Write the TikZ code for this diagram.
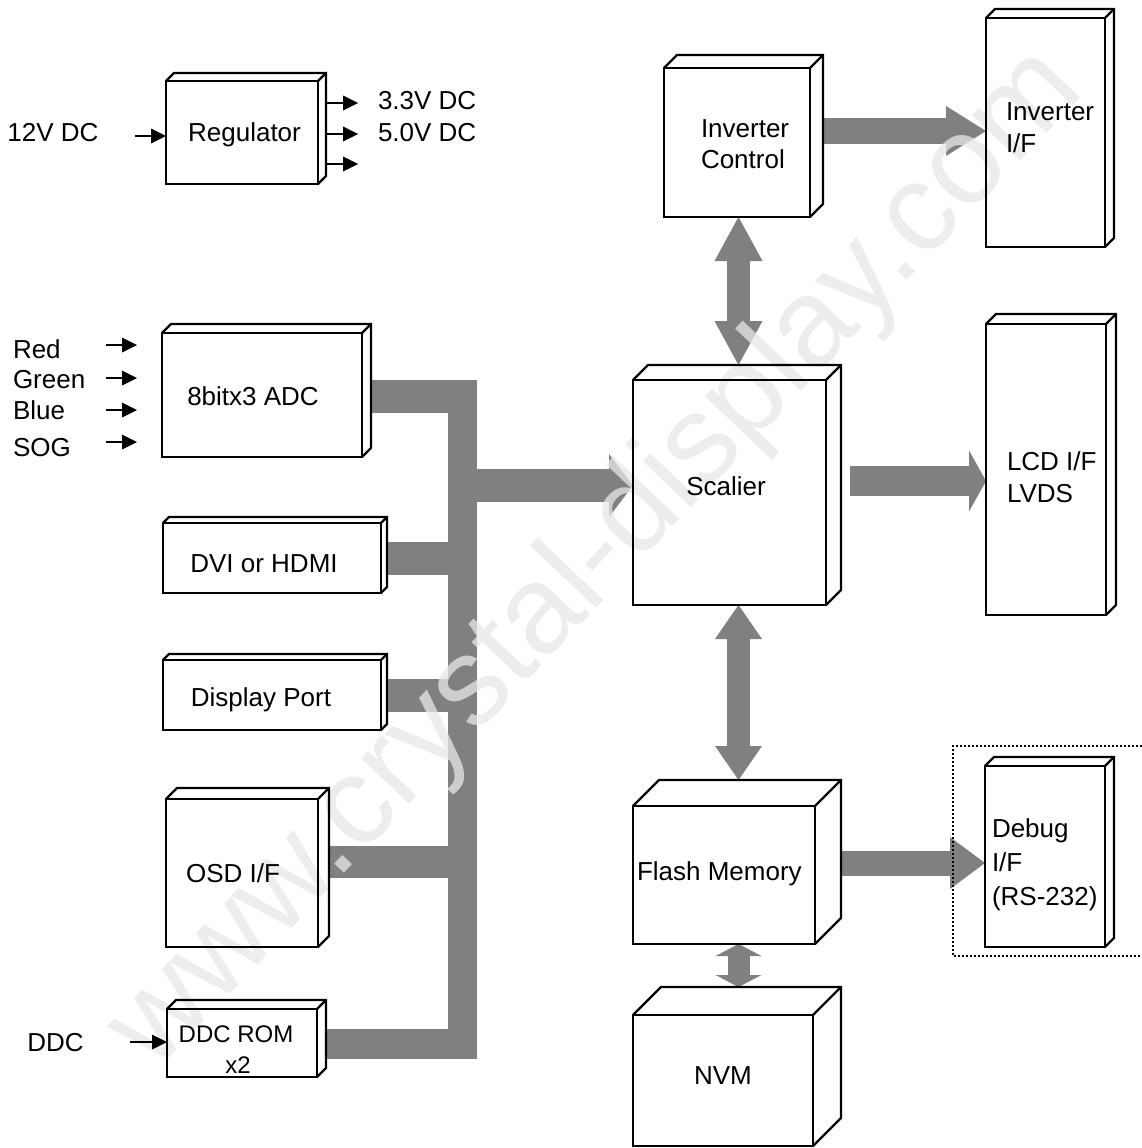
\documentclass[tikz,border=0pt]{standalone}
\usepackage{fontspec}
\setmainfont{Liberation Sans}
\usetikzlibrary{arrows.meta,calc}
\definecolor{busgray}{RGB}{128,128,128}
\definecolor{wmgray}{RGB}{232,232,232}
\tikzset{
  cubeface/.style={fill=white, draw=none, inner sep=0pt, outer sep=0pt},
  edge/.style={draw=black, line width=2.4pt},
  lbl/.style={font=\fontsize{26}{31}\selectfont, inner sep=0pt, outer sep=0pt},
  lblsm/.style={font=\fontsize{24}{28}\selectfont, inner sep=0pt, outer sep=0pt},
  sarrow/.style={draw=black, line width=2.4pt, -{Triangle[length=15pt,width=15pt,line width=0pt]}},
  fat/.style={draw=busgray, line cap=butt},
  dotbox/.style={draw=black, line width=1.8pt, dash pattern=on 1.8pt off 2.2pt},
}
\newcommand\cubefill[6]{%
  \node[cubeface, minimum width={(#4)-(#2)}, minimum height={(#5)-(#3)}] (#1) at ({((#2)+(#4))/2},{((#3)+(#5))/2}) {};
  \fill[white] (#1.north west) -- ++(#6,-#6) -- ([shift={(#6,-#6)}]#1.north east) -- ([shift={(#6,-#6)}]#1.south east) -- (#1.south east) -- (#1.north east) -- cycle;
}
\newcommand\cubeline[2]{%
  \draw[edge] (#1.north west) rectangle (#1.south east);
  \draw[edge] (#1.north west) -- ++(#2,-#2) -- ([shift={(#2,-#2)}]#1.north east) -- ([shift={(#2,-#2)}]#1.south east) -- (#1.south east);
  \draw[edge] (#1.north east) -- ++(#2,-#2);
}
\begin{document}
\begin{tikzpicture}[x=1pt,y=-1pt]
\fill[white] (0,0) rectangle (1142,1148);
\useasboundingbox (0,0) rectangle (1142,1148);
\clip (0,0) rectangle (1142,1148);

% box faces
\cubefill{reg}{166}{81}{318}{184}{8}
\cubefill{adc}{162}{333}{362}{457}{9}
\cubefill{dvi}{163}{523}{381}{593}{6}
\cubefill{dp}{163}{660}{381}{730}{6}
\cubefill{osd}{166}{799}{318}{947}{11}
\cubefill{ddc}{167}{1009}{317}{1077}{9}
\cubefill{invc}{664}{68}{810}{217}{13}
\cubefill{invif}{986}{18}{1105}{247}{9}
\cubefill{scal}{633}{380}{826}{605}{15}
\cubefill{lcd}{986}{324}{1106}{615}{10}
\cubefill{flash}{633}{806}{815}{944}{26}
\cubefill{debug}{985}{766}{1105}{947}{9}
\cubefill{nvm}{633}{1015}{813}{1146}{28}

% bus
\coordinate (barTop) at (462.5,380);
\coordinate (barBot) at (462.5,1059);
\coordinate (barC) at (462.5,0);
\coordinate (adcbus) at (477,396.5);
\coordinate (osdbus) at (462.5,862);
\coordinate (ddcbus) at (477,1044);
\draw[fat, line width=29pt] (barTop) -- (barBot);
\draw[fat, line width=33pt] ($(adc.east |- adcbus)+(9,0)$) -- (adcbus);
\draw[fat, line width=33pt] ($(dvi.east)+(6,0)$) -- (dvi.east -| barC);
\draw[fat, line width=33pt] ($(dp.east)+(6,0)$) -- (dp.east -| barC);
\draw[fat, line width=32pt] ($(osd.east |- osdbus)+(11,0)$) -- (osdbus);
\draw[fat, line width=30pt] ($(ddc.east |- ddcbus)+(9,0)$) -- (ddcbus);

% fat arrows
\coordinate (busout) at (470,485.5);
\draw[fat, line width=33pt, -{Triangle[length=24pt,width=63pt,line width=0pt]}] (busout) -- (busout -| scal.west);
\coordinate (lcdout) at (850,481);
\draw[fat, line width=30pt, -{Triangle[length=17pt,width=61pt,line width=0pt]}] (lcdout) -- (lcdout -| lcd.west);
\coordinate (invout) at (823,131);
\draw[fat, line width=26pt, -{Triangle[length=40pt,width=50pt,line width=0pt]}] (invout) -- (invout -| invif.west);
\coordinate (dbgout) at (841,863);
\draw[fat, line width=25pt, -{Triangle[length=35pt,width=52pt,line width=0pt]}] (dbgout) -- (dbgout -| debug.west);
\coordinate (vx) at (738.5,0);
\draw[fat, line width=23pt, {Triangle[length=44pt,width=48pt,line width=0pt]}-{Triangle[length=44pt,width=48pt,line width=0pt]}] (invc.south -| vx) -- ($(scal.north -| vx)+(0,-15)$);
\draw[fat, line width=23pt, {Triangle[length=34pt,width=47pt,line width=0pt]}-{Triangle[length=34pt,width=47pt,line width=0pt]}] (scal.south -| vx) -- ($(flash.north -| vx)+(0,-26)$);
\draw[fat, line width=22pt, {Triangle[length=12pt,width=46pt,line width=0pt]}-{Triangle[length=12pt,width=46pt,line width=0pt]}] (flash.south -| vx) -- ($(nvm.north -| vx)+(0,-28)$);

% watermark
\node[font=\fontsize{125}{125}\selectfont, text=wmgray, opacity=0.75, rotate=46.5, inner sep=0pt] (wm) at (597,560) {www.crystal-display.com};

% box outlines
\cubeline{reg}{8}
\cubeline{adc}{9}
\cubeline{dvi}{6}
\cubeline{dp}{6}
\cubeline{osd}{11}
\cubeline{ddc}{9}
\cubeline{invc}{13}
\cubeline{invif}{9}
\cubeline{scal}{15}
\cubeline{lcd}{10}
\cubeline{flash}{26}
\cubeline{debug}{9}
\cubeline{nvm}{28}

% small arrows
\coordinate (in12) at (135,136);
\draw[sarrow] (in12) -- (in12 -| reg.west);
\coordinate (o1) at (358,103);
\coordinate (o2) at (358,134);
\coordinate (o3) at (358,164);
\draw[sarrow] ($(reg.east |- o1)+(8,0)$) -- (o1);
\draw[sarrow] ($(reg.east |- o2)+(8,0)$) -- (o2);
\draw[sarrow] ($(reg.east |- o3)+(8,0)$) -- (o3);
\coordinate (r1) at (106,345);
\coordinate (r2) at (106,378);
\coordinate (r3) at (106,410);
\coordinate (r4) at (106,442);
\draw[sarrow] (r1) -- ++(31,0);
\draw[sarrow] (r2) -- ++(31,0);
\draw[sarrow] (r3) -- ++(31,0);
\draw[sarrow] (r4) -- ++(31,0);
\coordinate (inddc) at (130,1042);
\draw[sarrow] (inddc) -- (inddc -| ddc.west);

% texts
\node[lbl, anchor=base] (t12) at (53,141) {12V DC};
\node[lbl, anchor=base] (treg) at (244.5,141) {Regulator};
\node[lbl, anchor=base west] (t33) at (378,109) {3.3V DC};
\node[lbl, anchor=base west] (t50) at (378,141) {5.0V DC};
\node[lbl, anchor=base west] (tred) at (13,358) {Red};
\node[lbl, anchor=base west] (tgreen) at (13,388) {Green};
\node[lbl, anchor=base west] (tblue) at (13,419) {Blue};
\node[lbl, anchor=base west] (tsog) at (13,456) {SOG};
\node[lbl, anchor=base] (tadc) at (253,405) {8bitx3 ADC};
\node[lbl, anchor=base] (tdvi) at (264,572) {DVI or HDMI};
\node[lbl, anchor=base] (tdp) at (261,706) {Display Port};
\node[lbl, anchor=base] (tosd) at (233,882) {OSD I/F};
\node[lbl, anchor=base] (tddc) at (55.5,1051) {DDC};
\node[lblsm, anchor=base] (tddc1) at (236,1042) {DDC ROM};
\node[lblsm, anchor=base] (tddc2) at (238,1073) {x2};
\node[lbl, anchor=base west] (tinvc1) at (701,137) {Inverter};
\node[lbl, anchor=base west] (tinvc2) at (701,168) {Control};
\node[lbl, anchor=base west] (tinvif1) at (1006,120) {Inverter};
\node[lbl, anchor=base west] (tinvif2) at (1006,152) {I/F};
\node[lbl, anchor=base] (tscal) at (726,495) {Scalier};
\node[lbl, anchor=base west] (tlcd1) at (1007,470) {LCD I/F};
\node[lbl, anchor=base west] (tlcd2) at (1007,502) {LVDS};
\node[lbl, anchor=base west] (tflash) at (637,880) {Flash Memory};
\node[lbl, anchor=base west] (tdbg1) at (992,837) {Debug};
\node[lbl, anchor=base west] (tdbg2) at (992,871) {I/F};
\node[lbl, anchor=base west] (tdbg3) at (992,905) {(RS-232)};
\node[lbl, anchor=base] (tnvm) at (723,1084) {NVM};

% dotted frame
\draw[dotbox] (1142,746) -- (953,746) -- (953,956) -- (1142,956);
\end{tikzpicture}
\end{document}
